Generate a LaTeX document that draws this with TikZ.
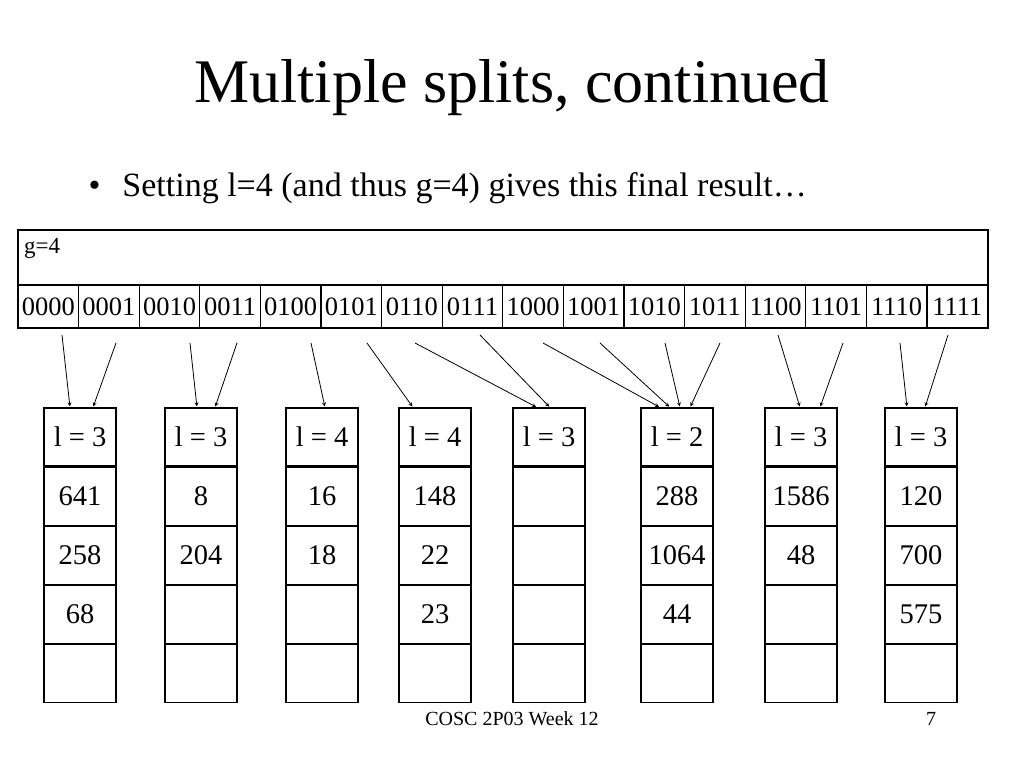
\documentclass[tikz,border=0pt]{standalone}
\usepackage{fontspec}
\setmainfont{Liberation Serif}
\usetikzlibrary{positioning}

\begin{document}
\begin{tikzpicture}[x=1pt,y=-1pt,>=stealth,
    cell/.style={draw,line width=1.2pt,minimum width=60.6pt,minimum height=43pt,inner sep=0pt,font=\fontsize{26.5}{28}\selectfont},
    slot/.style={draw,line width=1.2pt,minimum width=72pt,minimum height=58pt,inner sep=0pt,font=\fontsize{28.5}{30}\selectfont},
    ptr/.style={->,line width=0.8pt,shorten >=1pt}]
  \useasboundingbox (0,0) rectangle (1024,768);
  \node[font=\fontsize{62}{68}\selectfont] (title) at (512,88) {Multiple splits, continued};
  \node[font=\fontsize{34}{38}\selectfont,anchor=west] (bullet) at (85,188) {\textbullet\hspace{22pt}Setting l=4 (and thus g=4) gives this final result\dots};
  % directory
  \draw[line width=1.5pt] (18,230) rectangle (988,328);
  \node[anchor=north west,font=\fontsize{23}{25}\selectfont,inner sep=0pt] (g) at (24,238) {g=4};
  \foreach \i/\b in {0/0000,1/0001,2/0010,3/0011,4/0100,5/0101,6/0110,7/0111,
                     8/1000,9/1001,10/1010,11/1011,12/1100,13/1101,14/1110,15/1111}
    \node[cell] (d\i) at ({18+30.3+60.6*\i},306.5) {\b};
  % buckets
  \foreach \k/\x/\a/\bb/\c/\d in {0/80/l = 3/641/258/68, 1/201/l = 3/8/204/, 2/322/l = 4/16/18/,
      3/435/l = 4/148/22/23, 4/549/l = 3///, 5/677/l = 2/288/1064/44,
      6/801/l = 3/1586/48/, 7/921/l = 3/120/700/575} {
    \node[slot] (b\k r0) at (\x,437) {\a};
    \node[slot,below=0pt of b\k r0] (b\k r1) {\bb};
    \node[slot,below=0pt of b\k r1] (b\k r2) {\c};
    \node[slot,below=0pt of b\k r2] (b\k r3) {\d};
    \node[slot,below=0pt of b\k r3] (b\k r4) {};
  }
  % pointer tails
  \foreach \i/\x/\y in {0/62/335,1/116/343,2/190/343,3/237/343,4/311/343,5/367/343,6/415/343,7/480/335,
      8/543/343,9/600/343,10/665/343,11/720/343,12/778/335,13/843/343,14/900/343,15/948/335}
    \coordinate (t\i) at (\x,\y);
  \foreach \i/\k/\dx in {0/0/-10,1/0/13,2/1/-4,3/1/14,4/2/3,5/3/-22,6/4/-12,7/4/1,
      8/5/-17,9/5/-7,10/5/3,11/5/13,12/6/-1,13/6/19,14/7/-14,15/7/4}
    \draw[ptr] (t\i) -- ([xshift=\dx pt]b\k r0.north);
  \node[font=\fontsize{20}{22}\selectfont] (foot) at (512,719) {COSC 2P03 Week 12};
  \node[font=\fontsize{20}{22}\selectfont] (page) at (931,719) {7};
\end{tikzpicture}
\end{document}
